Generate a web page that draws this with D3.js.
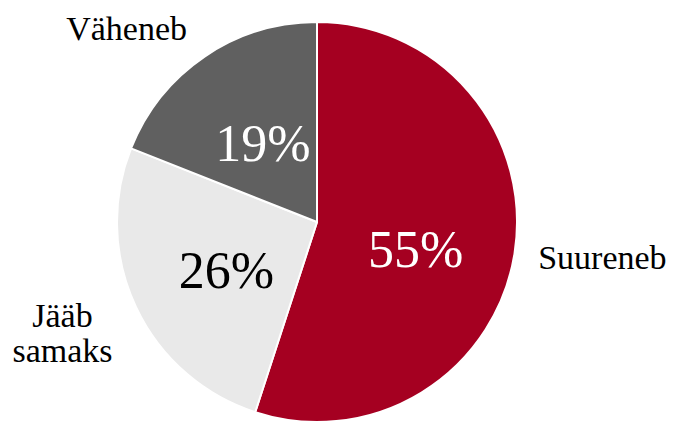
<!DOCTYPE html>
<html><head><meta charset="utf-8">
<script src="https://cdn.jsdelivr.net/npm/d3@7"></script>
<style>body{margin:0;background:#fff}svg{display:block}</style>
</head><body>
<svg id="c" width="676" height="422"></svg>
<script>
const categories = ["Suureneb", "Jääb samaks", "Väheneb"];
const values = [55, 26, 19];
const labelLines = [["Suureneb"], ["Jääb", "samaks"], ["Väheneb"]];
const colors = ["#A50021", "#E9E9E9", "#606060"];
const valueColors = ["#ffffff", "#000000", "#ffffff"];

// layout (not data)
const cx = 317, cy = 222, R = 200;
const innerNudge = [[0, 29], [0, 23], [2, 22]];
const outerNudge = [[-2, 12], [0, 9], [-3, 5]];
const font = "'Liberation Serif', 'Times New Roman', serif";

const svg = d3.select("#c");
const g = svg.append("g").attr("transform", `translate(${cx},${cy})`);
const data = categories.map((c, i) => ({cat: c, value: values[i], i}));
const pie = d3.pie().value(d => d.value).sort(null);
const arcs = pie(data);
const arc = d3.arc().innerRadius(0).outerRadius(R);
g.selectAll("path.slice").data(arcs).join("path")
  .attr("class", "slice")
  .attr("d", arc).attr("fill", d => colors[d.data.i])
  .attr("stroke", "#fff").attr("stroke-width", 2).attr("stroke-linejoin", "round");

const inArc = d3.arc().innerRadius(R * 0.5).outerRadius(R * 0.5);
g.selectAll("text.val").data(arcs).join("text")
  .attr("class", "val")
  .attr("x", d => inArc.centroid(d)[0] + innerNudge[d.data.i][0])
  .attr("y", d => inArc.centroid(d)[1] + innerNudge[d.data.i][1])
  .attr("text-anchor", "middle")
  .attr("font-family", font).attr("font-size", 52)
  .attr("fill", d => valueColors[d.data.i])
  .text(d => d.data.value + "%");

const outArc = d3.arc().innerRadius(R * 1.13).outerRadius(R * 1.13);
const lh = 35;
arcs.forEach(d => {
  const c = outArc.centroid(d);
  const x = c[0] + outerNudge[d.data.i][0];
  const y = c[1] + outerNudge[d.data.i][1];
  const lines = labelLines[d.data.i];
  const right = c[0] > 0;
  const t = g.append("text").attr("font-family", font).attr("font-size", 34).attr("fill", "#000");
  const spans = lines.map(l => t.append("tspan").text(l));
  const widths = spans.map(s => s.node().getComputedTextLength());
  const maxW = d3.max(widths);
  const boxLeft = right ? x : x - maxW;
  spans.forEach((s, k) => {
    s.attr("x", boxLeft + maxW / 2).attr("y", y + k * lh).attr("text-anchor", "middle");
  });
});
</script>
</body></html>
